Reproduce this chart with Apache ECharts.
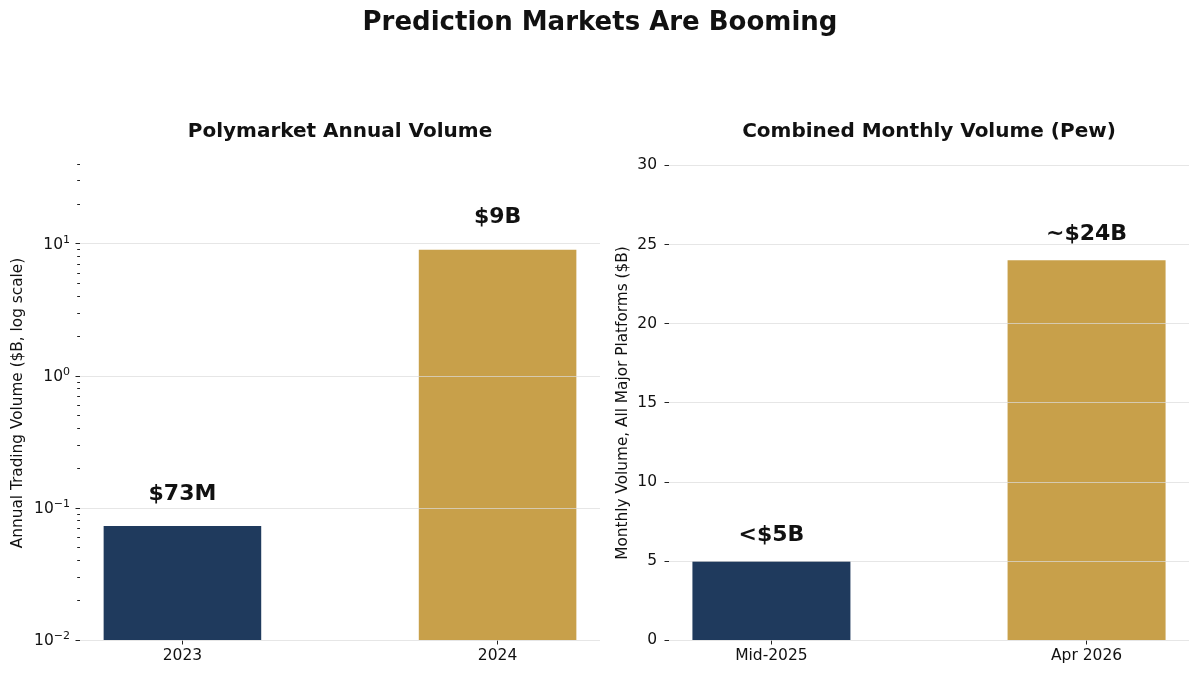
<!DOCTYPE html>
<html>
<head>
<meta charset="utf-8">
<script src="https://cdn.jsdelivr.net/npm/echarts@6/dist/echarts.min.js"></script>
<style>html,body{margin:0;padding:0;background:#fff;}#chart{width:1200px;height:677px;}</style>
</head>
<body>
<div id="chart"></div>
<script>
// ---- data ----
const leftCategories = ['2023', '2024'];
const leftValues = [0.073, 9];
const leftLabels = ['$73M', '$9B'];
const rightCategories = ['Mid-2025', 'Apr 2026'];
const rightValues = [5, 24];
const rightLabels = ['<$5B', '~$24B'];
const leftMajorTicks = [0.01, 0.1, 1, 10];
const leftMinorTicks = [0.02,0.03,0.04,0.05,0.06,0.07,0.08,0.09,0.2,0.3,0.4,0.5,0.6,0.7,0.8,0.9,2,3,4,5,6,7,8,9,20,30,40];
const rightTicks = [0, 5, 10, 15, 20, 25, 30];
const leftMin = 0.01, leftMax = 53;
const rightMax = 31.1;
const barColors = ['#1f3a5d', '#c8a04a'];

const FONT = 'DejaVu Sans';
const textColor = '#111';
const BAR_W = 0.5; // bar width in category units

const chart = echarts.init(document.getElementById('chart'), null, { renderer: 'canvas' });

const gridLine = { show: true, lineStyle: { color: 'rgba(220,220,220,0.7)', width: 1 } };
const labelFont = { fontSize: 22, fontWeight: 'bold', fill: textColor, fontFamily: FONT };

const option = {
  backgroundColor: '#fff',
  animation: false,
  textStyle: { fontFamily: FONT },
  title: [
    { text: 'Prediction Markets Are Booming', left: 'center', top: 10, padding: 0,
      textStyle: { fontFamily: FONT, fontSize: 26, fontWeight: 'bold', color: textColor } },
    { text: 'Polymarket Annual Volume', left: 340, top: 122, textAlign: 'center', padding: 0,
      textStyle: { fontFamily: FONT, fontSize: 20, fontWeight: 'bold', color: textColor } },
    { text: 'Combined Monthly Volume (Pew)', left: 929, top: 122, textAlign: 'center', padding: 0,
      textStyle: { fontFamily: FONT, fontSize: 20, fontWeight: 'bold', color: textColor } }
  ],
  grid: [
    { left: 80, right: 600, top: 148, bottom: 37 },
    { left: 669, right: 11, top: 148, bottom: 37 }
  ],
  xAxis: [0, 1].map(g => ({
    type: 'value', gridIndex: g, min: -0.325, max: 1.325,
    axisLine: { show: false, onZero: false },
    splitLine: { show: false },
    axisTick: { show: true, length: 4.5, customValues: [0, 1], lineStyle: { color: '#222' } },
    axisLabel: {
      customValues: [0, 1], margin: 8, fontSize: 15.5, color: textColor, fontFamily: FONT,
      formatter: v => (g === 0 ? leftCategories : rightCategories)[Math.round(v)]
    }
  })),
  yAxis: [
    {
      type: 'log', gridIndex: 0, min: leftMin, max: leftMax, logBase: 10, z: 3,
      name: 'Annual Trading Volume ($B, log scale)', nameLocation: 'middle', nameGap: 54,
      nameTextStyle: { fontSize: 15.3, color: textColor, fontFamily: FONT, padding: [0, 18, 0, 0] },
      axisLine: { show: false, onZero: false },
      axisTick: { show: true, length: 4.5, customValues: leftMajorTicks, lineStyle: { color: '#222' } },
      splitLine: gridLine,
      axisLabel: {
        customValues: leftMajorTicks, margin: 10, color: textColor, fontFamily: FONT,
        formatter: v => '{b|10}{s|' + String(Math.round(Math.log10(v))).replace('-', '\u2212') + '}',
        rich: {
          b: { fontSize: 15.5, fontFamily: FONT, color: textColor, lineHeight: 18, verticalAlign: 'bottom' },
          s: { fontSize: 11, fontFamily: FONT, color: textColor, verticalAlign: 'top', lineHeight: 11 }
        }
      }
    },
    {
      type: 'log', gridIndex: 0, min: leftMin, max: leftMax, logBase: 10, position: 'left', offset: 0,
      axisLine: { show: false, onZero: false },
      axisTick: { show: true, length: 2.8, customValues: leftMinorTicks, lineStyle: { color: '#222' } },
      axisLabel: { show: false },
      splitLine: { show: false }
    },
    {
      type: 'value', gridIndex: 1, min: 0, max: rightMax, interval: 5, z: 3,
      name: 'Monthly Volume, All Major Platforms ($B)', nameLocation: 'middle', nameGap: 38,
      nameTextStyle: { fontSize: 15.3, color: textColor, fontFamily: FONT, padding: [0, 18, 0, 0] },
      axisLine: { show: false, onZero: false },
      axisTick: { show: true, length: 4.5, customValues: rightTicks, lineStyle: { color: '#222' } },
      splitLine: gridLine,
      axisLabel: { customValues: rightTicks, margin: 12, fontSize: 15.5, color: textColor, fontFamily: FONT }
    }
  ],
  series: [
    {
      type: 'custom', xAxisIndex: 0, yAxisIndex: 0, z: 2,
      data: leftValues.map((v, i) => [i, v]),
      encode: { x: 0, y: 1 },
      renderItem: (params, api) => {
        const i = api.value(0), v = api.value(1);
        const top = api.coord([i, v]);
        const base = api.coord([i, leftMin]);
        const xl = api.coord([i - BAR_W / 2, v])[0];
        const xr = api.coord([i + BAR_W / 2, v])[0];
        return {
          type: 'rect',
          shape: { x: xl, y: top[1], width: xr - xl, height: base[1] - top[1] },
          style: { fill: barColors[params.dataIndex] },
          textContent: { style: Object.assign({ text: leftLabels[params.dataIndex] }, labelFont) },
          textConfig: { position: 'top', distance: 21 }
        };
      }
    },
    {
      type: 'bar', xAxisIndex: 1, yAxisIndex: 2, barWidth: 158, z: 2,
      data: rightValues.map((v, i) => ({ value: [i, v], itemStyle: { color: barColors[i] } })),
      label: {
        show: true, position: 'top', distance: 15,
        formatter: p => rightLabels[p.dataIndex],
        fontSize: 22, fontWeight: 'bold', color: textColor, fontFamily: FONT
      }
    }
  ]
};

chart.setOption(option);
</script>
</body>
</html>
